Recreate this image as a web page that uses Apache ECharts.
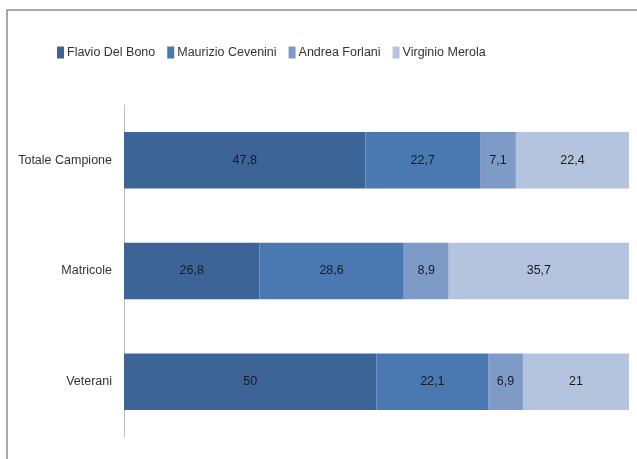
<!DOCTYPE html>
<html><head><meta charset="utf-8">
<script src="https://cdn.jsdelivr.net/npm/echarts@6/dist/echarts.min.js"></script>
<style>html,body{margin:0;padding:0;background:#fff}#c{width:637px;height:459px}</style>
</head><body><div id="c"></div>
<script>
var categories = ['Totale Campione', 'Matricole', 'Veterani'];
var seriesNames = ['Flavio Del Bono', 'Maurizio Cevenini', 'Andrea Forlani', 'Virginio Merola'];
var flavio = [47.8, 26.8, 50];
var maurizio = [22.7, 28.6, 22.1];
var andrea = [7.1, 8.9, 6.9];
var virginio = [22.4, 35.7, 21];
var colors = ['#3c6496', '#4a78b0', '#7e9bc8', '#b4c4df'];
var FONT = '"Liberation Sans Narrow", "Arial Narrow", "Liberation Sans", sans-serif';

var values = [flavio, maurizio, andrea, virginio];
var chart = echarts.init(document.getElementById('c'));
chart.setOption({
  animation: false,
  graphic: [{type: 'rect', shape: {x: 7, y: 10, width: 660, height: 480}, style: {fill: 'none', stroke: '#8c8c8c', lineWidth: 1.5}, silent: true}],
  legend: {
    left: 52, top: 41, itemWidth: 7, itemHeight: 12, itemGap: 12,
    textStyle: {fontFamily: FONT, fontSize: 12.5, color: '#333', padding: [0, 0, 0, -2]},
    icon: 'rect',
    data: seriesNames
  },
  grid: {left: 124, right: 8, top: 105, bottom: 22},
  xAxis: {type: 'value', min: 0, max: 100, show: false},
  yAxis: {
    type: 'category', data: categories, inverse: true,
    axisLine: {lineStyle: {color: '#bfbfbf'}},
    axisTick: {show: false},
    axisLabel: {fontFamily: FONT, fontSize: 12.5, color: '#333', margin: 12}
  },
  series: seriesNames.map(function (n, i) {
    return {
      name: n, type: 'bar', stack: 'total', barWidth: '51%',
      itemStyle: {color: colors[i]},
      label: {show: true, position: 'inside', fontFamily: FONT, fontSize: 12.5, color: '#1a1a1a',
        formatter: function (p) { return String(p.value).replace('.', ','); }},
      data: values[i]
    };
  })
});
</script></body></html>
